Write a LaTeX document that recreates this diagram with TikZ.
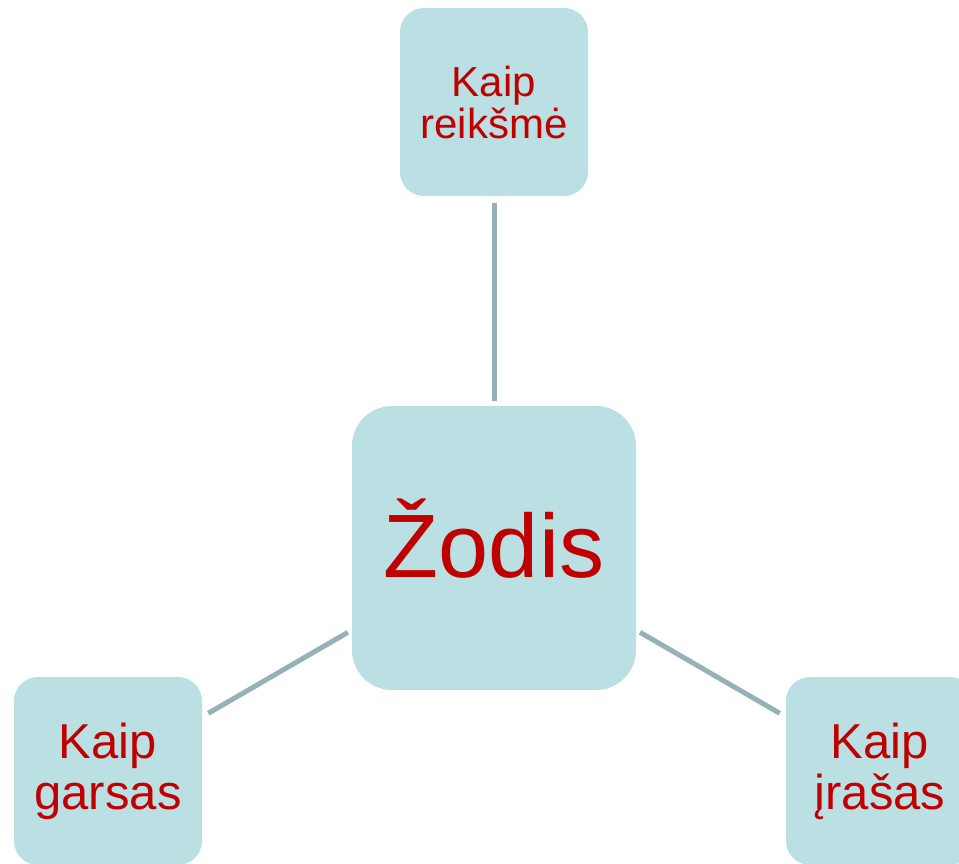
\documentclass[tikz,border=0pt]{standalone}
\usepackage{fontspec}
\setmainfont{Liberation Sans}
\definecolor{boxfill}{HTML}{BBE0E3}
\definecolor{txtred}{HTML}{C00000}
\definecolor{linkcol}{HTML}{95B3B7}
\tikzset{
  box/.style={fill=boxfill, text=txtred, rounded corners=24pt, inner sep=0pt, align=center,
    minimum width=188pt, minimum height=188pt},
  topfont/.style={font=\fontsize{42}{42}\selectfont},
  sidefont/.style={font=\fontsize{49}{51}\selectfont},
  bigbox/.style={box, rounded corners=40pt, minimum width=284pt, minimum height=284pt,
    font=\fontsize{90}{92}\selectfont, text height=60pt, text depth=2pt},
  link/.style={draw=linkcol, line width=5pt, shorten <=4.5pt, shorten >=7pt}
}
\begin{document}
\begin{tikzpicture}[x=1pt,y=-1pt]
\clip (0,0) rectangle (959,863);
\fill[white] (0,0) rectangle (959,863);
\node[bigbox] (c) at (494,548) {Žodis};
\node[box, topfont] (t) at (494,102) {Kaip\\reikšmė};
\node[box, sidefont] (l) at (108,771) {Kaip\\garsas};
\node[box, sidefont] (r) at (880,771) {Kaip\\įrašas};
\draw[link] (c) -- (t);
\draw[link] (c) -- (l);
\draw[link] (c) -- (r);
\end{tikzpicture}
\end{document}
